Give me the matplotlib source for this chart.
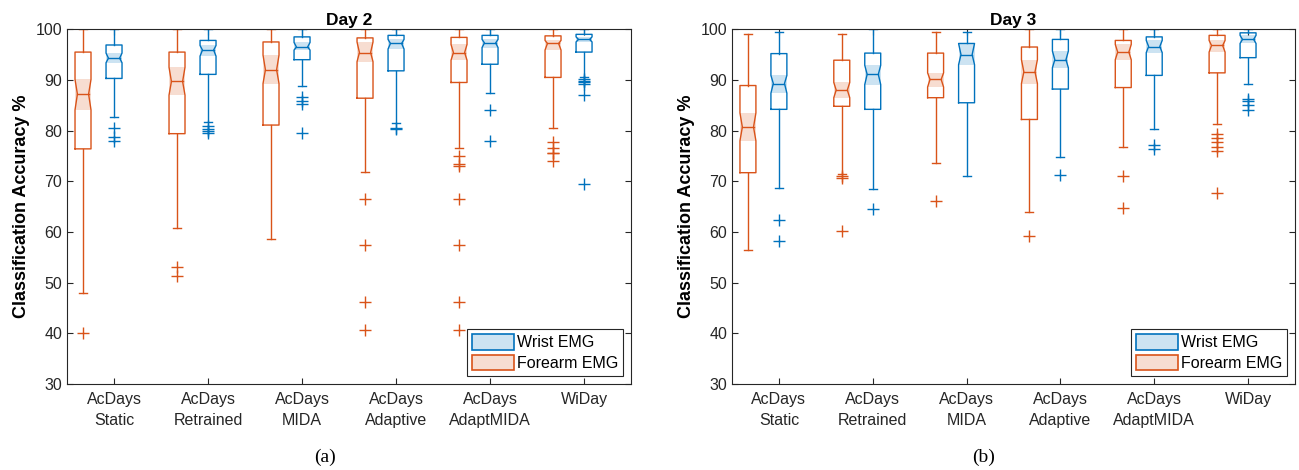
import numpy as np
import matplotlib.pyplot as plt
from matplotlib.patches import Patch

plt.rcParams['font.family'] = ['Liberation Sans', 'DejaVu Sans']

categories = ['AcDays\nStatic', 'AcDays\nRetrained', 'AcDays\nMIDA',
              'AcDays\nAdaptive', 'AcDays\nAdaptMIDA', 'WiDay']

# ---- Day 2, forearm EMG ----
d2_fore_whishi = [100, 100, 100, 100, 100, 100]
d2_fore_q3 = [95.5, 95.5, 97.5, 98.3, 98.4, 98.7]
d2_fore_cihi = [90.1, 92.5, 94.9, 97.5, 97.0, 97.8]
d2_fore_med = [87.2, 89.7, 92.0, 95.4, 95.4, 97.2]
d2_fore_cilo = [84.1, 87.0, 89.3, 93.6, 93.9, 95.9]
d2_fore_q1 = [76.4, 79.4, 81.1, 86.4, 89.5, 90.5]
d2_fore_whislo = [48.0, 60.7, 58.6, 71.8, 76.5, 80.5]
d2_fore_fliers = [[40.1], [53.1, 51.3], [], [66.6, 57.4, 46.1, 40.6],
                  [75.0, 73.4, 73.0, 66.6, 57.4, 46.1, 40.6],
                  [77.7, 76.6, 75.6, 75.5, 74.0]]

# ---- Day 2, wrist EMG ----
d2_wrist_whishi = [100, 100, 100, 100, 100, 100]
d2_wrist_q3 = [96.9, 97.8, 98.5, 98.8, 98.8, 99.0]
d2_wrist_cihi = [95.3, 96.8, 97.4, 98.0, 98.0, 98.5]
d2_wrist_med = [94.3, 95.9, 96.5, 97.2, 97.3, 98.0]
d2_wrist_cilo = [93.4, 94.7, 95.9, 96.1, 96.4, 97.5]
d2_wrist_q1 = [90.3, 91.1, 94.0, 91.8, 93.1, 95.5]
d2_wrist_whislo = [82.7, 81.7, 88.8, 81.6, 87.5, 90.6]
d2_wrist_fliers = [[80.6, 78.8, 78.0], [81.0, 80.4, 80.0, 79.6],
                   [86.6, 85.8, 85.3, 79.5], [80.6, 80.3], [84.1, 78.0],
                   [90.1, 89.8, 89.5, 89.3, 87.0, 69.5]]

# ---- Day 3, forearm EMG ----
d3_fore_whishi = [99.0, 99.0, 99.5, 100, 100, 100]
d3_fore_q3 = [88.9, 93.9, 95.3, 96.5, 97.8, 98.8]
d3_fore_cihi = [83.5, 89.5, 91.4, 94.0, 97.0, 97.8]
d3_fore_med = [80.7, 88.0, 90.1, 91.6, 95.5, 96.8]
d3_fore_cilo = [78.0, 86.5, 88.6, 89.3, 94.0, 95.5]
d3_fore_q1 = [71.7, 84.8, 86.5, 82.2, 88.5, 91.4]
d3_fore_whislo = [56.4, 71.4, 73.7, 63.9, 76.8, 81.3]
d3_fore_fliers = [[], [71.0, 70.7, 60.2], [66.1], [59.2], [71.0, 64.7],
                  [79.4, 78.6, 77.8, 76.8, 75.9, 67.7]]

# ---- Day 3, wrist EMG ----
d3_wrist_whishi = [99.5, 100, 99.5, 100, 100, 100]
d3_wrist_q3 = [95.2, 95.3, 97.2, 98.0, 98.5, 99.3]
d3_wrist_cihi = [90.9, 92.9, 97.2, 95.7, 97.8, 98.8]
d3_wrist_med = [89.3, 91.1, 95.0, 94.0, 96.6, 98.0]
d3_wrist_cilo = [87.4, 89.1, 93.0, 92.4, 95.4, 97.2]
d3_wrist_q1 = [84.2, 84.2, 85.5, 88.2, 90.9, 94.4]
d3_wrist_whislo = [68.7, 68.4, 71.1, 74.8, 80.4, 89.3]
d3_wrist_fliers = [[62.3, 58.2], [64.5], [], [71.2], [77.2, 76.3],
                   [86.3, 85.8, 85.0, 84.1]]

BLUE = '#0072BD'
ORANGE = '#D95319'
BLUE_L = '#CCE3F2'
ORANGE_L = '#F7DDD1'
AXC = '#262626'

W = 0.17      # box width
NW = 0.70     # notch width fraction at median


def draw_boxes(ax, pos, whislo, q1, cilo, med, cihi, q3, whishi, fliers, color, light):
    for i, x in enumerate(pos):
        l, r = x - W / 2, x + W / 2
        nl, nr = x - W * NW / 2, x + W * NW / 2
        # shaded notch band
        ax.fill_between([l, r], cilo[i], cihi[i], color=light, lw=0, zorder=1)
        # notched outline
        xs = [l, r, r, nr, r, r, l, l, nl, l, l]
        ys = [q1[i], q1[i], cilo[i], med[i], cihi[i], q3[i], q3[i], cihi[i], med[i], cilo[i], q1[i]]
        ax.plot(xs, ys, color=color, lw=1.0, zorder=3)
        ax.plot([nl, nr], [med[i], med[i]], color=color, lw=1.0, zorder=3)
        # whiskers + caps
        ax.plot([x, x], [q3[i], whishi[i]], color=color, lw=1.0, zorder=2)
        ax.plot([x, x], [q1[i], whislo[i]], color=color, lw=1.0, zorder=2)
        ax.plot([x - W / 4, x + W / 4], [whishi[i]] * 2, color=color, lw=1.0, zorder=2)
        ax.plot([x - W / 4, x + W / 4], [whislo[i]] * 2, color=color, lw=1.0, zorder=2)
        if fliers[i]:
            ax.plot([x] * len(fliers[i]), fliers[i], ls='none', marker='+',
                    ms=9, mew=1.0, color=color, zorder=3)


fig = plt.figure(figsize=(12.99, 4.70), dpi=100)
ax1 = fig.add_axes([0.0516, 0.183, 0.4342, 0.7547])
ax2 = fig.add_axes([0.5635, 0.183, 0.4334, 0.7547])

x = np.arange(1, len(categories) + 1)
panels = [
    (ax1, 'Day 2', '(a)', 0.25,
     (d2_fore_whislo, d2_fore_q1, d2_fore_cilo, d2_fore_med, d2_fore_cihi, d2_fore_q3, d2_fore_whishi, d2_fore_fliers),
     (d2_wrist_whislo, d2_wrist_q1, d2_wrist_cilo, d2_wrist_med, d2_wrist_cihi, d2_wrist_q3, d2_wrist_whishi, d2_wrist_fliers)),
    (ax2, 'Day 3', '(b)', 0.757,
     (d3_fore_whislo, d3_fore_q1, d3_fore_cilo, d3_fore_med, d3_fore_cihi, d3_fore_q3, d3_fore_whishi, d3_fore_fliers),
     (d3_wrist_whislo, d3_wrist_q1, d3_wrist_cilo, d3_wrist_med, d3_wrist_cihi, d3_wrist_q3, d3_wrist_whishi, d3_wrist_fliers)),
]

for ax, title, cap, capx, fore, wrist in panels:
    draw_boxes(ax, x - 0.33, *fore, ORANGE, ORANGE_L)
    draw_boxes(ax, x, *wrist, BLUE, BLUE_L)

    ax.set_xlim(0.5, 6.5)
    ax.set_ylim(30, 100)
    ax.set_xticks(x)
    ax.set_xticklabels(categories, fontsize=11.5, linespacing=1.45, va='top')
    ax.set_yticks(np.arange(30, 101, 10))
    ax.tick_params(axis='y', labelsize=11.5)
    ax.tick_params(axis='x', pad=6)
    ax.tick_params(direction='in', length=4, width=0.8, color=AXC,
                   labelcolor=AXC, top=True, right=True)
    for sp in ax.spines.values():
        sp.set_color(AXC)
        sp.set_linewidth(0.8)
        sp.set_zorder(5)
    ax.set_title(title, fontsize=12.5, fontweight='bold', pad=3)
    ax.set_ylabel('Classification Accuracy %', fontsize=13, fontweight='bold')

    handles = [Patch(facecolor=BLUE_L, edgecolor=BLUE, lw=1.2, label='Wrist EMG'),
               Patch(facecolor=ORANGE_L, edgecolor=ORANGE, lw=1.2, label='Forearm EMG')]
    leg = ax.legend(handles=handles, loc='lower right', fontsize=11.5, fancybox=False,
                    framealpha=1, edgecolor=AXC, handlelength=2.6, handleheight=1.1,
                    handletextpad=0.2, borderpad=0.3, labelspacing=0.3,
                    borderaxespad=0.5)
    leg.get_frame().set_linewidth(0.8)
    leg.set_zorder(6)

    fig.text(capx, 0.026, cap, ha='center', va='center', fontsize=14,
             family='Liberation Serif')

fig.savefig('out.png', dpi=100)
